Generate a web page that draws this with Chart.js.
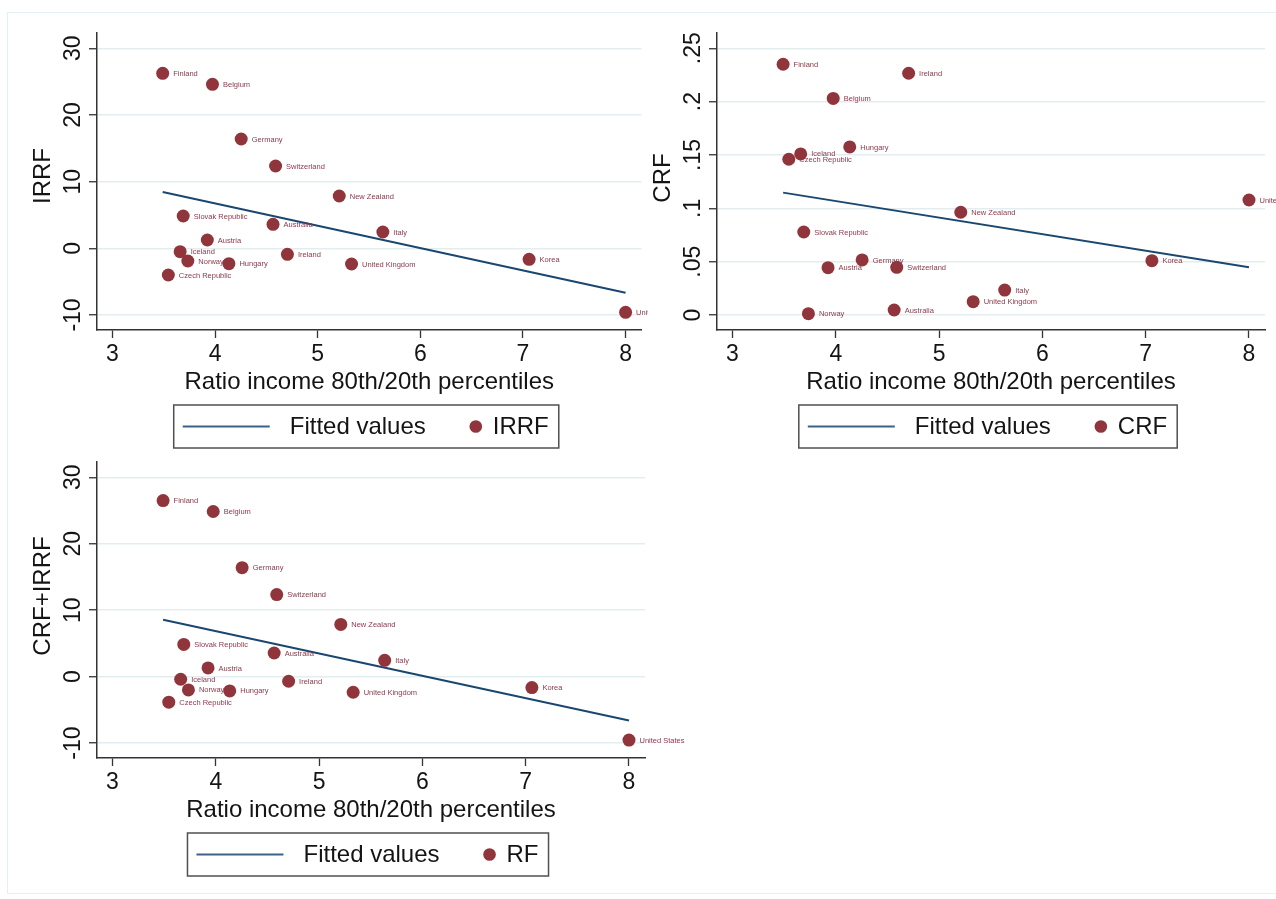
<!DOCTYPE html>
<html>
<head>
<meta charset="utf-8">
<title>Redistribution and income inequality</title>
<script src="https://cdn.jsdelivr.net/npm/chart.js@4.4.0/dist/chart.umd.min.js"></script>
<style>
  html, body { margin: 0; padding: 0; background: #fff; }
  body { width: 1276px; height: 899px; position: relative; overflow: hidden; }
  .frame { position: absolute; left: 7px; top: 12px; width: 1300px; height: 882px;
           border: 1.5px solid #e6eff1; box-sizing: border-box; }
  canvas { position: absolute; }
</style>
</head>
<body>
<div class="frame"></div>
<canvas id="irrfChart" width="648" height="460" style="left:0;top:0"></canvas>
<canvas id="crfChart" width="628" height="460" style="left:648px;top:0"></canvas>
<canvas id="rfChart" width="720" height="471" style="left:0;top:428px"></canvas>

<script>
// countries and their 80/20 income ratio
const countries = ['Finland', 'Belgium', 'Germany', 'Switzerland', 'New Zealand', 'Slovak Republic',
  'Australia', 'Italy', 'Austria', 'Iceland', 'Ireland', 'Norway', 'Hungary', 'United Kingdom',
  'Korea', 'Czech Republic', 'United States'];
const ratio8020 = [3.49, 3.975, 4.255, 4.59, 5.21, 3.69, 4.565, 5.635, 3.925, 3.66, 4.705,
  3.735, 4.135, 5.33, 7.06, 3.545, 8.0];

// series
const irrf = [26.25, 24.6, 16.4, 12.35, 7.85, 4.85, 3.6, 2.45, 1.25, -0.5, -0.9,
  -1.9, -2.3, -2.35, -1.65, -4.0, -9.6];
const crf = [0.235, 0.203, 0.0516, 0.0447, 0.0963, 0.0778, 0.0047, 0.0234, 0.0444, 0.151, 0.2266,
  0.0012, 0.1575, 0.0125, 0.0509, 0.146, 0.1078];
const rf = [26.5, 24.85, 16.4, 12.35, 7.85, 4.85, 3.55, 2.45, 1.3, -0.4, -0.7,
  -2.0, -2.15, -2.35, -1.65, -3.85, -9.55];

// fitted lines (end points)
const fitX = [3.49, 8.0];
const fitIRRF = [8.44, -6.66];
const fitCRF = [0.1147, 0.0447];
const fitRF = [8.55, -6.6];

// ticks
const xTicks = [3, 4, 5, 6, 7, 8];
const yTicksPct = [-10, 0, 10, 20, 30];
const yTickLabelsPct = ['-10', '0', '10', '20', '30'];
const yTicksCRF = [0, 0.05, 0.1, 0.15, 0.2, 0.25];
const yTickLabelsCRF = ['0', '.05', '.1', '.15', '.2', '.25'];

const xTitle = 'Ratio income 80th/20th percentiles';

const MAROON = '#90353b';
const NAVY = '#1a476f';
const AXIS = '#333';
const TEXT = '#141414';
const FONT = '"Liberation Sans", Arial, sans-serif';

function panelText(opt) {
  return {
    id: 'panelText',
    afterDatasetsDraw(chart) {
      // country names to the right of each marker
      const ctx = chart.ctx;
      const meta = chart.getDatasetMeta(1);
      ctx.save();
      ctx.font = '7.5px ' + FONT;
      ctx.fillStyle = '#8a3a4c';
      ctx.textBaseline = 'middle';
      meta.data.forEach((pt, i) => ctx.fillText(countries[i], pt.x + 10.5, pt.y + 0.5));
      ctx.restore();
    },
    afterDraw(chart) {
      const ctx = chart.ctx;
      const a = chart.chartArea;
      const ys = chart.scales.y;
      ctx.save();
      ctx.fillStyle = TEXT;

      // vertical y tick labels
      ctx.font = '23px ' + FONT;
      ctx.textAlign = 'center';
      ctx.textBaseline = 'alphabetic';
      opt.yTicks.forEach((v, i) => {
        ctx.save();
        ctx.translate(a.left - 17.5, ys.getPixelForValue(v));
        ctx.rotate(-Math.PI / 2);
        ctx.fillText(opt.yLabels[i], 0, 0);
        ctx.restore();
      });

      // axis titles
      ctx.font = '24px ' + FONT;
      ctx.textBaseline = 'middle';
      ctx.fillText(xTitle, (a.left + a.right) / 2, a.bottom + 52);
      ctx.save();
      ctx.translate(a.left - 54, opt.yTitleY);
      ctx.rotate(-Math.PI / 2);
      ctx.fillText(opt.yTitle, 0, 0);
      ctx.restore();

      // legend box
      const w1 = ctx.measureText('Fitted values').width;
      const w2 = ctx.measureText(opt.key).width;
      const boxW = 9 + 87 + 20 + w1 + 50 + 17 + w2 + 10;
      const boxH = 43;
      const bx = (a.left + a.right) / 2 - 3 - boxW / 2;
      const by = a.bottom + 75;
      const cy = by + boxH / 2;
      ctx.strokeStyle = '#505050';
      ctx.lineWidth = 1.5;
      ctx.strokeRect(bx, by, boxW, boxH);
      ctx.strokeStyle = '#3d6189';
      ctx.lineWidth = 2;
      ctx.beginPath();
      ctx.moveTo(bx + 9, cy);
      ctx.lineTo(bx + 96, cy);
      ctx.stroke();
      ctx.textAlign = 'left';
      ctx.fillText('Fitted values', bx + 116, cy + 1);
      const mx = bx + 116 + w1 + 50;
      ctx.fillStyle = MAROON;
      ctx.beginPath();
      ctx.arc(mx, cy, 6.3, 0, Math.PI * 2);
      ctx.fill();
      ctx.fillStyle = TEXT;
      ctx.fillText(opt.key, mx + 17, cy + 1);
      ctx.restore();
    }
  };
}

function makePanel(id, opt) {
  const points = ratio8020.map((x, i) => ({ x: x, y: opt.values[i] }));
  const fitted = fitX.map((x, i) => ({ x: x, y: opt.fit[i] }));

  new Chart(document.getElementById(id), {
    type: 'scatter',
    data: {
      datasets: [
        { label: 'Fitted values', type: 'line', data: fitted, borderColor: NAVY, borderWidth: 2,
          pointRadius: 0, fill: false, order: 2 },
        { label: opt.key, data: points, backgroundColor: MAROON, borderColor: MAROON, borderWidth: 0,
          pointRadius: 6.5, pointHoverRadius: 6.5, order: 1 }
      ]
    },
    options: {
      responsive: false,
      animation: false,
      events: [],
      layout: { padding: opt.padding },
      plugins: { legend: { display: false }, tooltip: { enabled: false } },
      scales: {
        x: {
          type: 'linear', min: 2.85, max: 8.155,
          afterBuildTicks: s => { s.ticks = xTicks.map(v => ({ value: v })); },
          afterFit: s => { s.height = opt.xHeight; },
          grid: { drawOnChartArea: false, tickLength: 8, tickColor: AXIS, tickWidth: 1.3 },
          border: { color: AXIS, width: 1.5 },
          ticks: { font: { family: FONT, size: 23 }, color: TEXT, padding: 3, maxRotation: 0, autoSkip: false }
        },
        y: {
          type: 'linear', min: opt.yMin, max: opt.yMax,
          afterBuildTicks: s => { s.ticks = opt.yTicks.map(v => ({ value: v })); },
          afterFit: s => { s.width = opt.yWidth; },
          grid: { color: '#e3edf0', lineWidth: 1.5, tickLength: 8, tickColor: AXIS, tickWidth: 1.3 },
          border: { color: AXIS, width: 1.5 },
          ticks: { display: false }
        }
      }
    },
    plugins: [panelText(opt)]
  });
}

makePanel('irrfChart', {
  values: irrf, fit: fitIRRF, key: 'IRRF', yTitle: 'IRRF', yTitleY: 176,
  yMin: -12.25, yMax: 32.3, yTicks: yTicksPct, yLabels: yTickLabelsPct,
  padding: { left: 0, top: 33, right: 3, bottom: 0 }, yWidth: 97, xHeight: 130
});

makePanel('crfChart', {
  values: crf, fit: fitCRF, key: 'CRF', yTitle: 'CRF', yTitleY: 178,
  yMin: -0.01406, yMax: 0.2643, yTicks: yTicksCRF, yLabels: yTickLabelsCRF,
  padding: { left: 0, top: 33, right: 11, bottom: 0 }, yWidth: 69, xHeight: 130
});

makePanel('rfChart', {
  values: rf, fit: fitRF, key: 'RF', yTitle: 'CRF+IRRF', yTitleY: 168,
  yMin: -12.25, yMax: 32.3, yTicks: yTicksPct, yLabels: yTickLabelsPct,
  padding: { left: 0, top: 34, right: 75, bottom: 0 }, yWidth: 97, xHeight: 141
});
</script>
</body>
</html>
